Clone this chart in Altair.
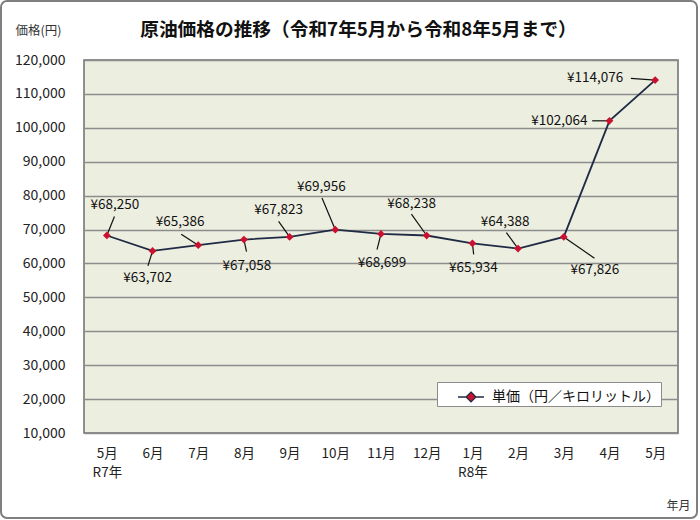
import json
import altair as alt
import pandas as pd

# ---------------- data ----------------
months = ["5月", "6月", "7月", "8月", "9月", "10月", "11月", "12月", "1月", "2月", "3月", "4月", "5月"]
years = ["R7年", "", "", "", "", "", "", "", "R8年", "", "", "", ""]
prices = [68250, 63702, 65386, 67058, 67823, 69956, 68699, 68238, 65934, 64388, 67826, 102064, 114076]
series_name = "単価（円／キロリットル）"
y_ticks = list(range(10000, 120001, 10000))
chart_title = "原油価格の推移（令和7年5月から令和8年5月まで）"

# ---------------- label layout (pixel offsets from each point) ----------------
label_dx = [8, -5, -18, 3, -11, -14, 1, -15, 1, -13, 31, -50, -60]
label_dy = [-30, 27, -23, 26, -27, -43, 29, -32, 25, -27, 33, 0, -2]
lead_dx = [7.6, -4.6, -17, 2.6, -11, -13.3, -4, -15.3, 1.3, -11.7, 30.7, -17.3, -24.3]
lead_dy = [-19, 15, -11, 12, -15.6, -31.7, 15.6, -21.3, 11, -16, 21.3, 0, -1.7]

W, H = 594, 373
Y_MIN, Y_MAX = 10000, 120000
X_MIN, X_MAX = -0.5, len(months) - 0.5
PX_X = (X_MAX - X_MIN) / W
PX_Y = (Y_MAX - Y_MIN) / H

FONT = "Noto Sans CJK JP"
NAVY = "#1f2b45"
RED = "#cc1030"
GRID = "#8c8c8c"

df = pd.DataFrame({
    "idx": list(range(len(months))),
    "price": prices,
    "series": [series_name] * len(months),
    "ldx": label_dx, "ldy": label_dy, "edx": lead_dx, "edy": lead_dy,
})

tick_labels = [[m, y] if y else m for m, y in zip(months, years)]
label_expr = json.dumps(tick_labels, ensure_ascii=False) + "[datum.value]"

xscale = alt.Scale(domain=[X_MIN, X_MAX], nice=False, zero=False)
yscale = alt.Scale(domain=[Y_MIN, Y_MAX], nice=False, zero=False)

xaxis = alt.Axis(
    values=list(range(len(months))), labelExpr=label_expr, grid=False, ticks=False,
    domain=False, labelPadding=13, labelBaseline="top", labelLineHeight=19,
    labelFontSize=13.5, labelFont=FONT, labelColor="#222", labelAngle=0,
    labelFlush=False, labelOverlap=False,
    title="年月", titleX=582, titleY=72, titleAlign="left", titleBaseline="middle",
    titleFontSize=12, titleFontWeight="normal", titleFont=FONT, titleColor="#333")
yaxis = alt.Axis(
    values=y_ticks, format=",d", grid=True, gridColor=GRID, gridWidth=1.5,
    ticks=False, domain=False, labelPadding=19, labelFontSize=14, labelFont=FONT,
    labelColor="#222", labelOverlap=False,
    title="価格(円)", titleAngle=0, titleX=-69, titleY=-30, titleAlign="left",
    titleBaseline="middle", titleFontSize=12.5, titleFontWeight="normal",
    titleFont=FONT, titleColor="#333")

base = alt.Chart(df).transform_calculate(
    lx=f"datum.idx + datum.ldx * {PX_X}",
    ly=f"datum.price - datum.ldy * {PX_Y}",
    ex=f"datum.idx + datum.edx * {PX_X}",
    ey=f"datum.price - datum.edy * {PX_Y}",
    label="'¥' + format(datum.price, ',')",
)

X = alt.X("idx:Q", scale=xscale, axis=xaxis)
Y = alt.Y("price:Q", scale=yscale, axis=yaxis)

line = base.mark_line(color=NAVY, strokeWidth=1.8).encode(x=X, y=Y)

leaders = base.mark_rule(color="#111", strokeWidth=1.2).encode(
    x=X, y=Y, x2="ex:Q", y2="ey:Q",
)

points = base.mark_point(shape="diamond", filled=True, size=60, opacity=1).encode(
    x=X, y=Y,
    color=alt.Color("series:N", scale=alt.Scale(range=[RED]), legend=alt.Legend(
        title=None, orient="none", legendX=353, legendY=322, fillColor="white",
        strokeColor=GRID, padding=1, symbolOffset=19, labelOffset=7,
        symbolType="M-1,0L-0.38,0M0.38,0L1,0M0,-0.38L0.38,0L0,0.38L-0.38,0Z", symbolSize=676,
        symbolStrokeColor=NAVY, symbolFillColor=RED, symbolStrokeWidth=1.3,
        labelFontSize=14, labelFont=FONT, labelLimit=400, labelColor="#111")),
)

texts = base.mark_text(fontSize=13.5, font=FONT, align="center", baseline="middle", color="#111").encode(
    x=alt.X("lx:Q", scale=xscale, axis=xaxis),
    y=alt.Y("ly:Q", scale=yscale, axis=yaxis),
    text="label:N",
)

title_mark = alt.Chart(alt.Data(values=[{"t": chart_title}])).mark_text(
    fontSize=18.7, fontWeight="bold", font=FONT, align="center", baseline="middle", color="#111"
).encode(x=alt.value(274.5), y=alt.value(-30), text="t:N")

frame = alt.Chart(alt.Data(values=[{}])).mark_rect(
    fill="transparent", stroke="#7f7f7f", strokeWidth=2, cornerRadius=6
).encode(x=alt.value(-83), x2=alt.value(613), y=alt.value(-59), y2=alt.value(458))

chart = alt.layer(frame, line, leaders, points, texts, title_mark).properties(
    width=W, height=H,
    autosize=alt.AutoSizeParams(type="none"),
    padding={"left": 84, "top": 60, "right": 22, "bottom": 87},
    background="white",
).configure_view(
    fill="#eceee0", stroke="#6e6e6e", strokeWidth=1.5
)

chart.save("out.html", embed_options={"renderer": "svg", "actions": False})
